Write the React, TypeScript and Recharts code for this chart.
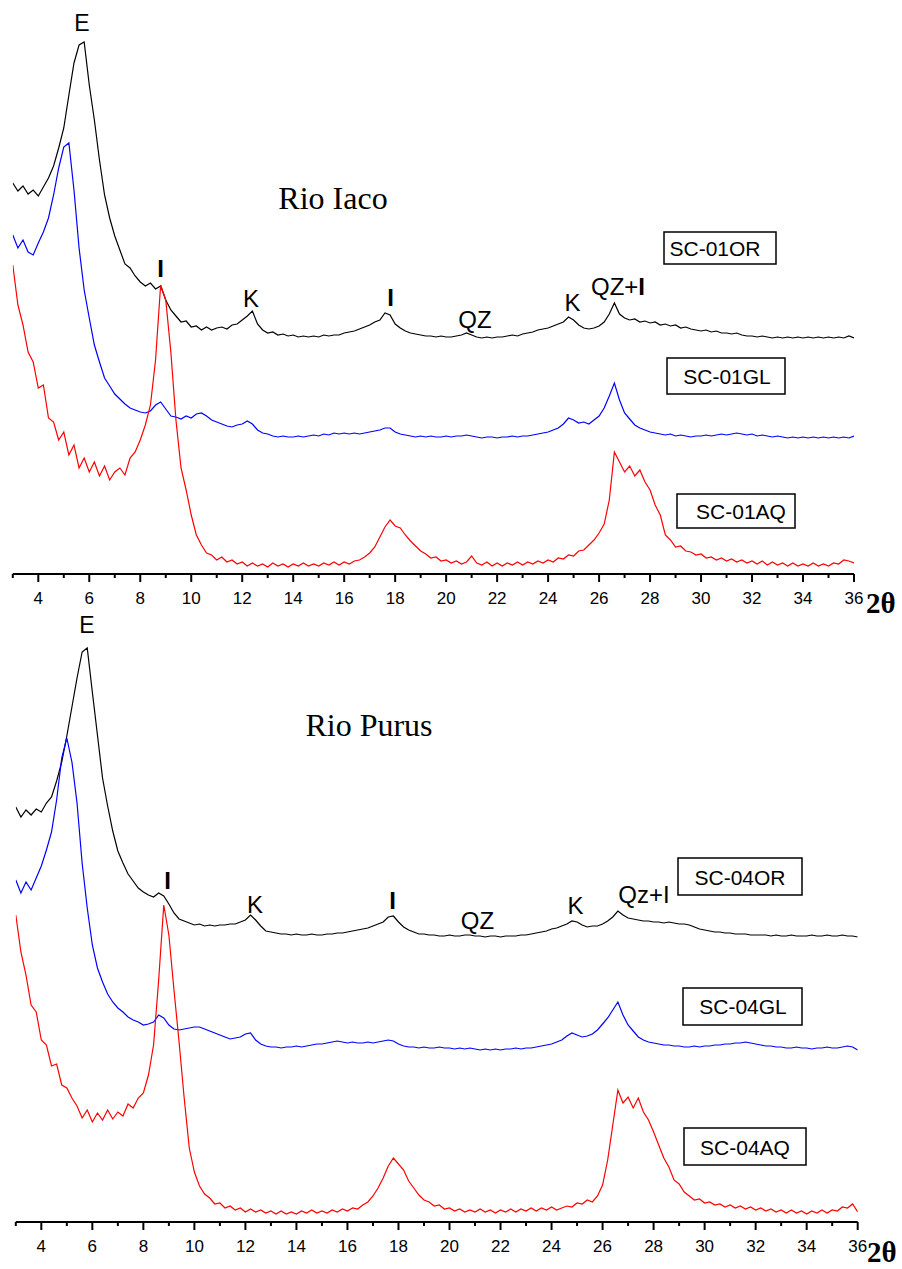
import React from 'react';
import { LineChart, Line, XAxis, YAxis } from 'recharts';

// 2θ sampling grid (degrees), 3.0 .. 36.0 step 0.2
const twoTheta: number[] = Array.from({ length: 166 }, (_, i) => Math.round((3 + i * 0.2) * 10) / 10);
const xTicks = [3, 4, 5, 6, 7, 8, 9, 10, 11, 12, 13, 14, 15, 16, 17, 18, 19, 20, 21, 22, 23, 24, 25, 26, 27, 28, 29, 30, 31, 32, 33, 34, 35, 36];

// Rio Iaco (intensity, arbitrary units incl. vertical offset)
const sc01OR = [
  391, 383, 388, 380, 384, 378, 387, 396, 408, 426,
  446, 479, 511, 529, 532, 489, 454, 414, 379, 356,
  338, 324, 310, 306, 298, 292, 288, 291, 285, 288,
  274, 264, 258, 252, 253, 247, 248, 244, 247, 244,
  246, 247, 245, 249, 250, 254, 258, 263, 250, 244,
  241, 242, 239, 240, 238, 239, 237, 238, 237, 238,
  237, 239, 238, 239, 239, 241, 242, 243, 245, 247,
  249, 252, 254, 261, 259, 250, 246, 243, 241, 240,
  239, 238, 238, 237, 238, 237, 237, 238, 239, 241,
  239, 237, 236, 237, 236, 237, 237, 238, 239, 238,
  240, 241, 242, 244, 245, 246, 248, 250, 252, 257,
  254, 249, 246, 245, 246, 248, 252, 260, 271, 260,
  256, 254, 255, 252, 253, 251, 252, 249, 250, 248,
  249, 246, 247, 245, 244, 243, 244, 242, 243, 241,
  241, 240, 241, 239, 238, 238, 237, 238, 237, 236,
  237, 236, 237, 236, 237, 236, 237, 236, 237, 236,
  237, 236, 237, 236, 238, 236,
];
const sc01GL = [
  339, 326, 334, 322, 319, 331, 342, 356, 379, 406,
  427, 431, 384, 326, 284, 256, 229, 212, 196, 188,
  180, 175, 170, 166, 164, 162, 161, 163, 169, 172,
  165, 158, 157, 155, 158, 156, 160, 161, 158, 154,
  152, 150, 148, 147, 149, 150, 153, 150, 144, 141,
  140, 138, 137, 138, 137, 137, 138, 137, 138, 139,
  138, 140, 139, 141, 140, 141, 140, 141, 140, 141,
  142, 143, 144, 146, 146, 142, 140, 139, 138, 137,
  138, 137, 138, 137, 137, 138, 137, 138, 138, 139,
  138, 137, 136, 137, 137, 136, 137, 137, 138, 137,
  138, 138, 139, 140, 141, 142, 144, 146, 150, 156,
  154, 151, 152, 150, 154, 158, 166, 178, 191, 174,
  161, 155, 149, 146, 144, 142, 141, 140, 139, 140,
  138, 139, 138, 137, 138, 138, 139, 138, 139, 140,
  139, 140, 141, 140, 139, 140, 138, 139, 138, 137,
  138, 137, 136, 137, 136, 137, 136, 137, 136, 137,
  136, 137, 136, 137, 136, 138,
];
const sc01AQ = [
  309, 269, 249, 222, 212, 186, 189, 156, 152, 134,
  142, 119, 129, 106, 116, 102, 112, 98, 108, 94,
  102, 106, 99, 116, 122, 134, 149, 169, 214, 289,
  274, 222, 154, 106, 84, 59, 39, 29, 21, 19,
  14, 17, 12, 14, 10, 12, 8, 11, 8, 10,
  7, 11, 8, 10, 7, 10, 8, 11, 8, 10,
  8, 11, 9, 12, 9, 12, 10, 13, 14, 17,
  21, 27, 37, 47, 54, 48, 46, 39, 33, 28,
  23, 20, 16, 17, 13, 14, 11, 13, 10, 12,
  18, 11, 9, 12, 8, 11, 8, 11, 9, 12,
  9, 12, 10, 13, 11, 14, 12, 16, 15, 19,
  18, 23, 24, 29, 34, 41, 50, 74, 122, 112,
  102, 108, 98, 104, 92, 84, 69, 59, 39, 34,
  27, 28, 23, 22, 19, 20, 16, 17, 14, 16,
  13, 15, 12, 14, 11, 13, 10, 13, 9, 12,
  9, 11, 8, 11, 8, 10, 8, 11, 8, 10,
  8, 11, 10, 14, 13, 11,
];

// Rio Purus
const sc04OR = [
  415, 405, 412, 407, 413, 410, 419, 425, 441, 460,
  486, 515, 544, 570, 574, 530, 487, 444, 416, 391,
  371, 359, 348, 341, 334, 330, 327, 325, 329, 326,
  318, 309, 303, 301, 299, 297, 298, 296, 297, 296,
  297, 297, 298, 298, 300, 302, 307, 302, 296, 291,
  290, 289, 288, 288, 287, 288, 287, 287, 288, 287,
  287, 288, 288, 289, 289, 290, 291, 292, 293, 294,
  296, 298, 300, 305, 306, 300, 295, 292, 290, 288,
  288, 287, 287, 286, 286, 287, 286, 286, 287, 287,
  286, 286, 285, 286, 286, 285, 286, 286, 286, 287,
  287, 288, 289, 290, 291, 293, 294, 296, 298, 301,
  300, 297, 295, 296, 296, 298, 301, 305, 311, 307,
  304, 303, 302, 301, 301, 300, 300, 299, 300, 299,
  298, 298, 297, 295, 293, 292, 291, 290, 290, 289,
  289, 288, 288, 288, 287, 287, 287, 287, 286, 287,
  286, 286, 287, 286, 286, 286, 287, 286, 286, 287,
  286, 286, 287, 286, 286, 285,
];
const sc04GL = [
  342, 329, 340, 332, 344, 356, 372, 390, 422, 464,
  484, 460, 419, 359, 314, 277, 254, 240, 228, 220,
  214, 210, 205, 202, 200, 197, 198, 200, 207, 204,
  197, 193, 192, 193, 194, 195, 195, 193, 191, 189,
  187, 185, 183, 184, 185, 188, 189, 182, 178, 176,
  175, 175, 174, 175, 175, 176, 175, 176, 177, 178,
  178, 179, 180, 181, 180, 179, 180, 179, 179, 180,
  179, 180, 181, 182, 181, 178, 176, 175, 175, 174,
  175, 174, 174, 175, 174, 174, 173, 174, 173, 174,
  173, 172, 173, 172, 173, 172, 173, 173, 174, 173,
  174, 174, 175, 176, 177, 178, 180, 182, 186, 189,
  187, 185, 186, 188, 192, 198, 204, 212, 220, 207,
  197, 191, 185, 182, 180, 179, 178, 177, 177, 176,
  176, 175, 175, 176, 175, 176, 176, 177, 177, 178,
  178, 179, 179, 180, 179, 178, 177, 176, 176, 175,
  175, 174, 174, 175, 174, 174, 173, 174, 174, 175,
  174, 174, 175, 176, 175, 172,
];
const sc04AQ = [
  307, 270, 247, 217, 210, 182, 177, 156, 158, 137,
  134, 124, 116, 104, 112, 100, 109, 102, 112, 103,
  110, 106, 118, 114, 124, 129, 147, 177, 242, 317,
  287, 232, 180, 124, 74, 50, 36, 28, 24, 18,
  19, 14, 16, 12, 14, 10, 13, 10, 12, 9,
  11, 8, 11, 8, 10, 8, 11, 9, 12, 9,
  11, 9, 12, 10, 13, 11, 14, 13, 17, 20,
  26, 34, 44, 56, 64, 58, 52, 41, 34, 27,
  22, 20, 16, 17, 13, 14, 11, 13, 10, 12,
  10, 13, 10, 12, 9, 12, 10, 13, 10, 13,
  11, 14, 11, 14, 12, 15, 12, 14, 16, 15,
  19, 18, 22, 20, 26, 37, 62, 97, 132, 119,
  125, 114, 124, 110, 102, 90, 77, 64, 55, 42,
  38, 30, 26, 22, 23, 19, 20, 17, 18, 15,
  17, 14, 16, 13, 15, 12, 14, 11, 13, 10,
  12, 9, 12, 9, 11, 8, 11, 9, 12, 9,
  12, 11, 15, 14, 18, 10,
];

const SANS = '"Liberation Sans", Arial, Helvetica, sans-serif';
const SERIF = '"Liberation Serif", "Times New Roman", serif';

const buildRows = (a: number[], b: number[], c: number[]) =>
  twoTheta.map((t, i) => ({ t, or: a[i], gl: b[i], aq: c[i] }));

const iacoRows = buildRows(sc01OR, sc01GL, sc01AQ);
const purusRows = buildRows(sc04OR, sc04GL, sc04AQ);

const AxisTick = (props: any) => {
  const { x, y, payload } = props;
  const v = payload.value as number;
  const major = v % 2 === 0;
  return (
    <g>
      <line x1={x} x2={x} y1={y} y2={y + (major ? 8 : 4)} stroke="#000" strokeWidth={2} />
      {major && (
        <text x={x} y={y + 30} textAnchor="middle" fontSize={17} fontFamily={SANS} fill="#000">
          {v}
        </text>
      )}
    </g>
  );
};

type PanelProps = {
  rows: any[];
  top: number;
  height: number;
  plotH: number;
  left: number;
  right: number;
};

const Panel = ({ rows, top, height, plotH, left, right }: PanelProps) => (
  <div style={{ position: 'absolute', left: 0, top }}>
    <LineChart width={902} height={height} data={rows} margin={{ top: 0, right, bottom: 0, left }}>
      <XAxis
        dataKey="t"
        type="number"
        domain={[3, 36]}
        ticks={xTicks}
        interval={0}
        allowDataOverflow
        height={height - plotH}
        tickSize={0}
        tickMargin={0}
        tickLine={false}
        axisLine={{ stroke: '#000', strokeWidth: 2 }}
        tick={<AxisTick />}
      />
      <YAxis hide type="number" domain={[0, plotH]} allowDataOverflow />
      <Line dataKey="or" stroke="#000000" strokeWidth={1.2} dot={false} isAnimationActive={false} type="linear" />
      <Line dataKey="gl" stroke="#0000ff" strokeWidth={1.2} dot={false} isAnimationActive={false} type="linear" />
      <Line dataKey="aq" stroke="#ff0000" strokeWidth={1.2} dot={false} isAnimationActive={false} type="linear" />
    </LineChart>
  </div>
);

const Lbl = ({ x, y, children, bold = false, size = 24 }: any) => (
  <text x={x} y={y} textAnchor="middle" fontSize={size} fontFamily={SANS} fontWeight={bold ? 'bold' : 'normal'} fill="#000">
    {children}
  </text>
);

const Box = ({ x, y, w, h, cx, by, label }: any) => (
  <g>
    <rect x={x} y={y} width={w} height={h} fill="#fff" stroke="#000" strokeWidth={1.5} />
    <text x={cx} y={by} textAnchor="middle" fontSize={21} fontFamily={SANS} fill="#000">
      {label}
    </text>
  </g>
);

export default function App() {
  return (
    <div style={{ position: 'absolute', left: 0, top: 0, width: 902, height: 1269, background: '#fff' }}>
      <Panel rows={iacoRows} top={0} height={620} plotH={574} left={12.8} right={48} />
      <Panel rows={purusRows} top={640} height={628} plotH={582} left={15.8} right={44.3} />
      <svg width={902} height={1269} style={{ position: 'absolute', left: 0, top: 0, pointerEvents: 'none' }}>
        {/* Rio Iaco */}
        <Lbl x={82} y={31} size={23}>E</Lbl>
        <text x={333} y={209} textAnchor="middle" fontSize={32} fontFamily={SERIF} fill="#000">Rio Iaco</text>
        <Lbl x={160.5} y={277} bold>I</Lbl>
        <Lbl x={251} y={307}>K</Lbl>
        <Lbl x={390.5} y={306} bold>I</Lbl>
        <Lbl x={475} y={328}>QZ</Lbl>
        <Lbl x={572.5} y={311}>K</Lbl>
        <text x={618} y={295} textAnchor="middle" fontSize={24} fontFamily={SANS} fill="#000">
          QZ+<tspan fontWeight="bold">I</tspan>
        </text>
        <Box x={664} y={232} w={112} h={32} cx={715} by={256} label="SC-01OR" />
        <Box x={667} y={358} w={118} h={36} cx={727} by={384} label="SC-01GL" />
        <Box x={677} y={494} w={118} h={34} cx={741} by={519} label="SC-01AQ" />
        <text x={866} y={613} fontSize={29} fontWeight="bold" fontFamily={SERIF} fill="#000">2θ</text>

        {/* Rio Purus */}
        <Lbl x={87} y={633} size={23}>E</Lbl>
        <text x={369} y={736} textAnchor="middle" fontSize={32} fontFamily={SERIF} fill="#000">Rio Purus</text>
        <Lbl x={167.5} y={889} bold>I</Lbl>
        <Lbl x={255} y={913}>K</Lbl>
        <Lbl x={392.5} y={909} bold>I</Lbl>
        <Lbl x={477.5} y={929}>QZ</Lbl>
        <Lbl x={575.5} y={914}>K</Lbl>
        <Lbl x={644} y={903}>Qz+I</Lbl>
        <Box x={678} y={858} w={124} h={37} cx={740} by={885} label="SC-04OR" />
        <Box x={683} y={988} w={119} h={37} cx={743} by={1014} label="SC-04GL" />
        <Box x={684} y={1128} w={122} h={37} cx={745} by={1155} label="SC-04AQ" />
        <text x={867} y={1262} fontSize={29} fontWeight="bold" fontFamily={SERIF} fill="#000">2θ</text>
      </svg>
    </div>
  );
}
